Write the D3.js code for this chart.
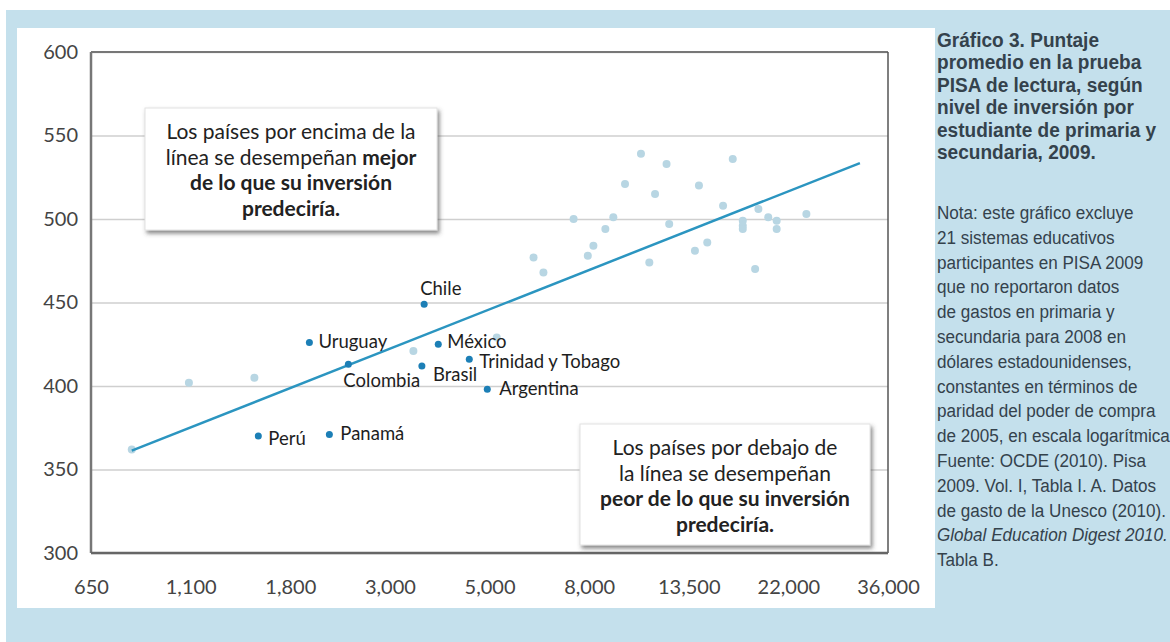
<!DOCTYPE html>
<html>
<head>
<meta charset="utf-8">
<script src="https://cdn.jsdelivr.net/npm/d3@7"></script>
<style>
  body { margin: 0; background: #fff; }
  .axis path { display: none; }
  .y.axis line { stroke: #cfcfcf; stroke-width: 1.5px; }
  .axis text { font-family: Lato, "Open Sans", sans-serif; font-size: 20px; fill: #444; }
  .clabel { font-family: Lato, "Open Sans", sans-serif; font-size: 18.5px; fill: #1e1e1e; }
  .boxtext { font-family: Lato, "Open Sans", sans-serif; font-size: 21px; fill: #222; }
  .side { font-family: "Liberation Sans", Arial, sans-serif; fill: #34424c; }
</style>
</head>
<body>
<script>
// Highlighted Latin American countries
var countries = ["Chile", "Uruguay", "México", "Colombia", "Brasil", "Trinidad y Tobago", "Argentina", "Perú", "Panamá"];
var countrySpend = [3540, 1990, 3800, 2420, 3500, 4440, 4860, 1540, 2200];
var countryScore = [449, 426, 425, 413, 412, 416, 398, 370, 371];

// Other PISA 2009 systems (grey dots)
var otherSpend = [816, 1087, 1510, 3354, 5096, 6130, 6442, 7495, 8049, 8278, 8790, 9149, 9702, 10510, 10960,
                  11280, 11950, 12110, 13780, 14060, 14660, 15870, 16660, 17520, 17520, 17520, 18640, 18950,
                  19910, 20770, 20770, 24110];
var otherScore = [362, 402, 405, 421, 429, 477, 468, 500, 478, 484, 494, 501, 521, 539, 474,
                  515, 533, 497, 481, 520, 486, 508, 536, 499, 496, 494, 470, 506,
                  501, 499, 494, 503];

// Trend line end points
var trendSpend = [816, 31540];
var trendScore = [361.3, 533.5];

// Axis ticks
var xTickValues = [665, 1097, 1808, 2981, 4915, 8103, 13360, 22026, 36316];
var xTickLabels = ["650", "1,100", "1,800", "3,000", "5,000", "8,000", "13,500", "22,000", "36,000"];
var yTickValues = [300, 350, 400, 450, 500, 550, 600];

var titleLines = ["Gráfico 3. Puntaje", "promedio en la prueba", "PISA de lectura, según",
                  "nivel de inversión por", "estudiante de primaria y", "secundaria, 2009."];
var noteLines = ["Nota: este gráfico excluye", "21 sistemas educativos", "participantes en PISA 2009",
                 "que no reportaron datos", "de gastos en primaria y", "secundaria para 2008 en",
                 "dólares estadounidenses,", "constantes en términos de", "paridad del poder de compra",
                 "de 2005, en escala logarítmica", "Fuente: OCDE (2010). Pisa", "2009. Vol. I, Tabla I. A. Datos",
                 "de gasto de la  Unesco (2010).", "Global Education Digest 2010.", "Tabla B."];

var W = 1170, H = 642;
var margin = {left: 91, top: 52},
    width = 797,
    height = 501;

var root = d3.select("body").append("svg")
    .attr("width", W)
    .attr("height", H);

//shadow for the annotation boxes
var defs = root.append("defs");
var f = defs.append("filter").attr("id", "shadow")
    .attr("x", "-10%").attr("y", "-10%").attr("width", "125%").attr("height", "130%");
f.append("feDropShadow")
    .attr("dx", 2).attr("dy", 3)
    .attr("stdDeviation", 2)
    .attr("flood-color", "#444")
    .attr("flood-opacity", 0.65);

//Backgrounds
root.append("rect")
    .attr("x", 6).attr("y", 10)
    .attr("width", W - 6).attr("height", H - 10)
    .style("fill", "#c4e0ec");

root.append("rect")
    .attr("x", 17).attr("y", 28)
    .attr("width", 918).attr("height", 580)
    .style("fill", "#fff");

var svg = root.append("g")
    .attr("transform", "translate(" + margin.left + "," + margin.top + ")");

var xScale = d3.scaleLog()
    .domain([xTickValues[0], xTickValues[xTickValues.length - 1]])
    .range([0, width]);

var yScale = d3.scaleLinear()
    .domain([300, 600])
    .range([height, 0]);

//Y axis with grid lines
var yAxis = d3.axisLeft(yScale)
    .tickValues(yTickValues)
    .tickSize(-width)
    .tickPadding(13);

svg.append("g")
    .attr("class", "y axis")
    .call(yAxis);

//X axis
var xAxis = d3.axisBottom(xScale)
    .tickValues(xTickValues)
    .tickFormat(function(d, i) { return xTickLabels[i]; })
    .tickSize(0)
    .tickPadding(27);

svg.append("g")
    .attr("class", "x axis")
    .attr("transform", "translate(0," + height + ")")
    .call(xAxis);

//Frame
svg.append("line").attr("x1", 0).attr("x2", width).attr("y1", 0).attr("y2", 0)
    .style("stroke", "#777").style("stroke-width", 2);
svg.append("line").attr("x1", width).attr("x2", width).attr("y1", 0).attr("y2", height)
    .style("stroke", "#555").style("stroke-width", 1.5);
svg.append("line").attr("x1", 0).attr("x2", 0).attr("y1", 0).attr("y2", height)
    .style("stroke", "#777").style("stroke-width", 2.5);
svg.append("line").attr("x1", 0).attr("x2", width).attr("y1", height).attr("y2", height)
    .style("stroke", "#666").style("stroke-width", 2.5);

//Annotation boxes (drawn before the points, cover the grid)
function box(x, y, w, h, lines) {
    svg.append("rect")
        .attr("x", x - margin.left).attr("y", y - margin.top)
        .attr("width", w).attr("height", h)
        .style("fill", "#fff")
        .style("stroke", "#e2e2e2")
        .attr("filter", "url(#shadow)");
    var t = svg.append("text")
        .attr("class", "boxtext")
        .attr("text-anchor", "middle");
    lines.forEach(function(ln, i) {
        var line = t.append("tspan")
            .attr("x", x - margin.left + w / 2)
            .attr("y", y - margin.top + 31 + i * 25.5);
        ln.forEach(function(part) {
            line.append("tspan")
                .style("font-weight", part[1] ? 700 : 400)
                .text(part[0]);
        });
    });
}

box(145, 108, 292, 122, [
    [["Los países por encima de la", 0]],
    [["línea se desempeñan ", 0], ["mejor", 1]],
    [["de lo que su inversión", 1]],
    [["predeciría.", 1]]
]);

box(580, 424, 290, 121, [
    [["Los países por debajo de", 0]],
    [["la línea se desempeñan", 0]],
    [["peor de lo que su inversión", 1]],
    [["predeciría.", 1]]
]);

//Grey dots
svg.selectAll(".other")
    .data(otherSpend)
    .enter()
    .append("circle")
    .attr("class", "other")
    .attr("r", 4)
    .attr("cx", function(d) { return xScale(d); })
    .attr("cy", function(d, i) { return yScale(otherScore[i]); })
    .style("fill", "#b8d6e3");

//Trend line
svg.append("line")
    .attr("x1", xScale(trendSpend[0])).attr("y1", yScale(trendScore[0]))
    .attr("x2", xScale(trendSpend[1])).attr("y2", yScale(trendScore[1]))
    .style("stroke", "#2b95c0")
    .style("stroke-width", 2.5);

//Highlighted dots
svg.selectAll(".dot")
    .data(countries)
    .enter()
    .append("circle")
    .attr("class", "dot")
    .attr("r", 3.5)
    .attr("cx", function(d, i) { return xScale(countrySpend[i]); })
    .attr("cy", function(d, i) { return yScale(countryScore[i]); })
    .style("fill", "#1c7fb6");

//Label offsets from each dot
var labelOffset = {
    "Chile": [-4, -9],
    "Uruguay": [9, 5],
    "México": [9, 4],
    "Colombia": [-5, 23],
    "Brasil": [11, 15],
    "Trinidad y Tobago": [10, 9],
    "Argentina": [12, 6],
    "Perú": [10, 9],
    "Panamá": [11, 6]
};

svg.selectAll(".clabel")
    .data(countries)
    .enter()
    .append("text")
    .attr("class", "clabel")
    .attr("x", function(d, i) { return xScale(countrySpend[i]) + labelOffset[d][0]; })
    .attr("y", function(d, i) { return yScale(countryScore[i]) + labelOffset[d][1]; })
    .text(function(d) { return d; });

//Side text (narrow look: horizontally squeezed)
var title = root.append("g")
    .attr("transform", "translate(937,0) scale(0.93,1)")
    .append("text")
    .attr("class", "side")
    .style("font-size", "20.5px")
    .style("font-weight", 700);
titleLines.forEach(function(s, i) {
    title.append("tspan").attr("x", 0).attr("y", 47 + i * 22.4).text(s);
});

var note = root.append("g")
    .attr("transform", "translate(937,0) scale(0.9,1)")
    .append("text")
    .attr("class", "side")
    .style("font-size", "19px");
noteLines.forEach(function(s, i) {
    note.append("tspan")
        .attr("x", 0).attr("y", 219 + i * 24.8)
        .style("font-style", s.indexOf("Global") === 0 ? "italic" : "normal")
        .text(s);
});
</script>
</body>
</html>
